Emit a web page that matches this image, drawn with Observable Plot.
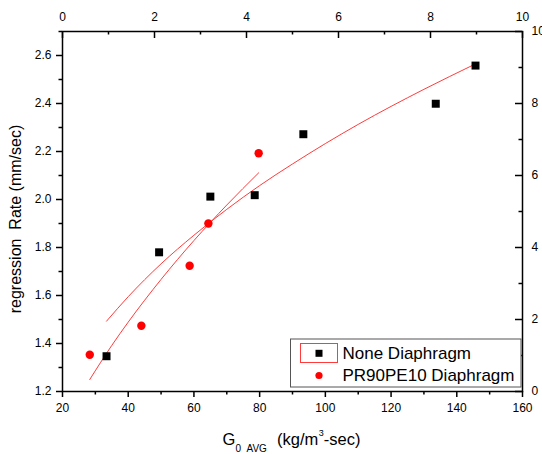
<!DOCTYPE html>
<html><head><meta charset="utf-8">
<script src="https://cdn.jsdelivr.net/npm/d3@7"></script>
<script src="https://cdn.jsdelivr.net/npm/@observablehq/plot@0.6"></script>
<style>
body{margin:0;background:#fff}
#chart{width:542px;height:454px}
</style>
</head><body><div id="chart"></div>
<script>
// Data
const noneX = [33.4, 49.4, 65.0, 78.5, 93.3, 133.6, 145.7];
const noneY = [1.347, 1.780, 2.012, 2.018, 2.272, 2.399, 2.558];
const prX = [28.3, 44.0, 58.7, 64.4, 79.7];
const prY = [1.353, 1.474, 1.724, 1.900, 2.193];
// Fit curves, points
const fitNoneX = [33.4, 40, 50, 60, 70, 80, 90, 100, 110, 120, 130, 145.7];
const fitNoneY = [1.493, 1.595, 1.732, 1.851, 1.959, 2.058, 2.148, 2.233, 2.313, 2.388, 2.459, 2.565];
const fitPrX = [28.3, 35, 40, 50, 60, 70, 79.7];
const fitPrY = [1.25, 1.392, 1.489, 1.667, 1.829, 1.977, 2.111];
// Axis ticks
const bottomTicks = [20, 40, 60, 80, 100, 120, 140, 160];
const bottomMinor = [30, 50, 70, 90, 110, 130, 150];
const leftTicks = [1.2, 1.4, 1.6, 1.8, 2.0, 2.2, 2.4, 2.6];
const leftMinor = [1.3, 1.5, 1.7, 1.9, 2.1, 2.3, 2.5, 2.7];
const topTicks = [0, 2, 4, 6, 8, 10];
const topMinor = [1, 3, 5, 7, 9];
const rightTicks = [0, 2, 4, 6, 8, 10];
const rightMinor = [1, 3, 5, 7, 9];
const seriesNames = ["None Diaphragm", "PR90PE10 Diaphragm"];

const xDomain = [20, 160], yDomain = [1.2, 2.7];
const topToX = t => xDomain[0] + t * (xDomain[1] - xDomain[0]) / 10;
const rightToY = r => yDomain[0] + r * (yDomain[1] - yDomain[0]) / 10;

const none = noneX.map((x, i) => ({x, y: noneY[i]}));
const pr = prX.map((x, i) => ({x, y: prY[i]}));
const fitNone = fitNoneX.map((x, i) => ({x, y: fitNoneY[i]}));
const fitPr = fitPrX.map((x, i) => ({x, y: fitPrY[i]}));

const W = 542, H = 454, mL = 62, mR = 20, mT = 31, mB = 63;
const fw = W - mL - mR, fh = H - mT - mB;
const font = "'Liberation Sans', Arial, sans-serif";
const red = "#ff3b3b";

const plot = Plot.plot({
  width: W, height: H,
  marginLeft: mL, marginRight: mR, marginTop: mT, marginBottom: mB,
  style: {fontFamily: font, fontSize: "12px", color: "black", background: "white"},
  x: {domain: xDomain},
  y: {domain: yDomain},
  marks: [
    // bottom axis
    Plot.axisX({anchor: "bottom", ticks: bottomTicks, tickSize: 6, tickPadding: 6, tickFormat: d3.format("d"), label: null, strokeWidth: 1.5}),
    Plot.axisX({anchor: "bottom", ticks: bottomMinor, tickSize: 3.5, tickFormat: () => "", label: null, strokeWidth: 1.5}),
    // left axis
    Plot.axisY({anchor: "left", ticks: leftTicks, tickSize: 6, tickPadding: 5, tickFormat: d3.format(".1f"), label: null, strokeWidth: 1.5}),
    Plot.axisY({anchor: "left", ticks: leftMinor, tickSize: 3.5, tickFormat: () => "", label: null, strokeWidth: 1.5}),
    // top axis (0-10)
    Plot.axisX({anchor: "top", ticks: topTicks.map(topToX), tickSize: 0, tickPadding: 11, tickFormat: d => String(Math.round((d - xDomain[0]) * 10 / (xDomain[1] - xDomain[0]))), label: null}),
    Plot.tickX(topTicks.map(topToX), {x: d => d, insetBottom: fh - 7, stroke: "black", strokeWidth: 1.5}),
    Plot.tickX(topMinor.map(topToX), {x: d => d, insetBottom: fh - 3.5, stroke: "black", strokeWidth: 1.5}),
    // right axis (0-10)
    Plot.axisY({anchor: "right", ticks: rightTicks.map(rightToY), tickSize: 0, tickPadding: 9, tickFormat: d => String(Math.round((d - yDomain[0]) * 10 / (yDomain[1] - yDomain[0]))), label: null}),
    Plot.tickY(rightTicks.map(rightToY), {y: d => d, insetLeft: fw - 7, stroke: "black", strokeWidth: 1.5}),
    Plot.tickY(rightMinor.map(rightToY), {y: d => d, insetLeft: fw - 3.5, stroke: "black", strokeWidth: 1.5}),
    // fit curves
    Plot.line(fitNone, {x: "x", y: "y", stroke: red, strokeWidth: 1, curve: "monotone-x"}),
    Plot.line(fitPr, {x: "x", y: "y", stroke: red, strokeWidth: 1, curve: "monotone-x"}),
    // points
    Plot.dot(none, {x: "x", y: "y", symbol: "square", r: 4.5, fill: "black", stroke: null}),
    Plot.dot(pr, {x: "x", y: "y", symbol: "circle", r: 4.2, fill: "#ff0000", stroke: null}),
    Plot.frame({stroke: "black", strokeWidth: 1.5})
  ]
});

document.getElementById("chart").appendChild(plot);
const svg = d3.select(plot);

// Legend
const lg = svg.append("g").attr("font-family", font).attr("font-size", 17).attr("text-anchor", "start");
lg.append("rect").attr("x", 290.5).attr("y", 339).attr("width", 230.5).attr("height", 48)
  .attr("fill", "white").attr("stroke", "#555").attr("stroke-width", 1);
lg.append("rect").attr("x", 300.5).attr("y", 343.5).attr("width", 37).attr("height", 19)
  .attr("fill", "none").attr("stroke", red).attr("stroke-width", 1);
lg.append("rect").attr("x", 315.5).attr("y", 349.8).attr("width", 7).attr("height", 7).attr("fill", "black");
lg.append("circle").attr("cx", 319).attr("cy", 375.5).attr("r", 3.6).attr("fill", "#ff0000");
lg.append("text").attr("x", 342.5).attr("y", 353.3).attr("dy", "0.35em").attr("fill", "black").text(seriesNames[0]);
lg.append("text").attr("x", 342.5).attr("y", 375.3).attr("dy", "0.35em").attr("fill", "black").text(seriesNames[1]);

// X axis title
const xt = svg.append("text").attr("font-family", font).attr("font-size", 16.5).attr("fill", "black").attr("text-anchor", "start");
xt.append("tspan").attr("x", 222.5).attr("y", 445).text("G");
xt.append("tspan").attr("x", 235.5).attr("y", 451.5).attr("font-size", 10).text("0");
xt.append("tspan").attr("x", 246.5).attr("y", 451.5).attr("font-size", 10).text("AVG");
xt.append("tspan").attr("x", 277).attr("y", 445).text("(kg/m");
xt.append("tspan").attr("dx", 0.5).attr("y", 436).attr("font-size", 9).text("3");
xt.append("tspan").attr("y", 445).text("-sec)");

// Y axis title
svg.append("text").attr("font-family", font).attr("font-size", 16).attr("fill", "black")
  .attr("text-anchor", "middle").attr("transform", "translate(21,219) rotate(-90)")
  .style("white-space", "pre")
  .text("regression  Rate (mm/sec)");
</script>
</body></html>
